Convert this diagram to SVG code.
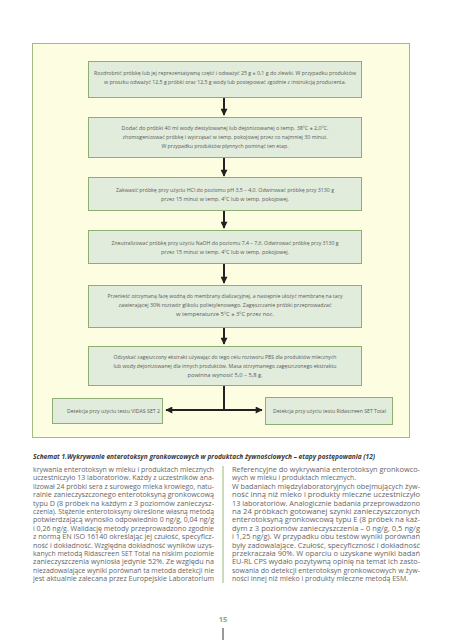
<svg xmlns="http://www.w3.org/2000/svg" width="453" height="640" viewBox="0 0 453 640">
<defs>
<marker id="ah" viewBox="0 0 10 10" refX="9" refY="5" markerWidth="4" markerHeight="3.5" orient="auto-start-reverse" markerUnits="strokeWidth">
<path d="M0,0 L10,5 L0,10 z" fill="#222"/>
</marker>
<style>
.outer{fill:#fdfde1;stroke:#a3bb80;stroke-width:1}
.box{fill:#e1ecdc;stroke:#8fae72;stroke-width:1}
.bt{font-family:"Open Sans","Liberation Sans",sans-serif;font-size:5.3px;fill:#5a5a5a;text-anchor:middle}
.lt{font-family:"Open Sans","Liberation Sans",sans-serif;font-size:5.3px;fill:#5a5a5a}
.con{stroke:#222;stroke-width:2;fill:none}
.cap{font-family:"Open Sans","Liberation Sans",sans-serif;font-size:7.4px;font-style:italic;font-weight:bold;fill:#3a3a3a}
.body{font-family:"Open Sans","Liberation Sans",sans-serif;font-size:6.6px;fill:#666}
</style>
</defs>
<rect width="453" height="640" fill="#fff"/>
<rect class="outer" x="32.5" y="43.5" width="377" height="394"/>

<g id="connectors">
<line class="con" x1="224" y1="98" x2="224" y2="115" marker-end="url(#ah)"/>
<line class="con" x1="224" y1="158" x2="224" y2="176" marker-end="url(#ah)"/>
<line class="con" x1="224" y1="210" x2="224" y2="228" marker-end="url(#ah)"/>
<line class="con" x1="224" y1="263" x2="224" y2="283" marker-end="url(#ah)"/>
<line class="con" x1="224" y1="327" x2="224" y2="344" marker-end="url(#ah)"/>
<line class="con" x1="224" y1="385" x2="224" y2="410"/>
<line class="con" x1="166" y1="410" x2="262" y2="410" marker-start="url(#ah)" marker-end="url(#ah)"/>
</g>

<g id="n1">
<rect class="box" x="88.5" y="61.5" width="273" height="36"/>
<text class="bt" x="225" y="75" textLength="262" lengthAdjust="spacingAndGlyphs">Rozdrobnić próbkę lub jej reprezentatywną część i odważyć 25 g ± 0,1 g do zlewki. W przypadku produktów</text>
<text class="bt" x="225" y="84" textLength="242" lengthAdjust="spacingAndGlyphs">w proszku odważyć 12,5 g próbki oraz 12,5 g wody lub postępować zgodnie z instrukcją producenta.</text>
</g>

<g id="n2">
<rect class="box" x="88.5" y="117.5" width="273" height="40"/>
<text class="bt" x="225" y="130" textLength="207" lengthAdjust="spacingAndGlyphs">Dodać do próbki 40 ml wody destylowanej lub dejonizowanej o temp. 38ºC ± 2,0ºC.</text>
<text class="bt" x="225" y="139" textLength="205" lengthAdjust="spacingAndGlyphs">zhomogenizować próbkę i wytrząsać w temp. pokojowej przez co najmniej 30 minut.</text>
<text class="bt" x="225" y="148" textLength="127" lengthAdjust="spacingAndGlyphs">W przypadku produktów płynnych pominąć ten etap.</text>
</g>

<g id="n3">
<rect class="box" x="88.5" y="177.5" width="273" height="33"/>
<text class="bt" x="225" y="192" textLength="218" lengthAdjust="spacingAndGlyphs">Zakwasić próbkę przy użyciu HCl do poziomu pH 3,5 – 4,0. Odwirować próbkę przy 3130 g</text>
<text class="bt" x="225" y="201" textLength="128" lengthAdjust="spacingAndGlyphs">przez 15 minut w temp. 4ºC lub w temp. pokojowej.</text>
</g>

<g id="n4">
<rect class="box" x="88.5" y="230.5" width="273" height="33"/>
<text class="bt" x="225" y="245" textLength="227" lengthAdjust="spacingAndGlyphs">Zneutralizować próbkę przy użyciu NaOH do poziomu 7,4 – 7,6. Odwirować próbkę przy 3130 g</text>
<text class="bt" x="225" y="254" textLength="128" lengthAdjust="spacingAndGlyphs">przez 15 minut w temp. 4ºC lub w temp. pokojowej.</text>
</g>

<g id="n5">
<rect class="box" x="88.5" y="285.5" width="273" height="42"/>
<text class="bt" x="225" y="298" textLength="235" lengthAdjust="spacingAndGlyphs">Przenieść otrzymaną fazę wodną do membrany dializacyjnej, a następnie ułożyć membranę na tacy</text>
<text class="bt" x="225" y="307" textLength="213" lengthAdjust="spacingAndGlyphs">zawierającej 30% roztwór glikolu polietylenowego. Zagęszczanie próbki przeprowadzać</text>
<text class="bt" x="225" y="316" textLength="98" lengthAdjust="spacingAndGlyphs">w temperaturze 5ºC ± 3ºC przez noc.</text>
</g>

<g id="n6">
<rect class="box" x="88.5" y="346.5" width="273" height="39"/>
<text class="bt" x="225" y="359" textLength="223" lengthAdjust="spacingAndGlyphs">Odzyskać zagęszczony ekstrakt używając do tego celu roztworu PBS dla produktów mlecznych</text>
<text class="bt" x="225" y="368" textLength="223" lengthAdjust="spacingAndGlyphs">lub wody dejonizowanej dla innych produktów. Masa otrzymanego zagęszczonego ekstraktu</text>
<text class="bt" x="225" y="377" textLength="75" lengthAdjust="spacingAndGlyphs">powinna wynosić 5,0 – 5,8 g.</text>
</g>

<g id="n7">
<rect class="box" x="52.5" y="398.5" width="110" height="25"/>
<text class="lt" x="67" y="413" textLength="93" lengthAdjust="spacingAndGlyphs">Detekcja przy użyciu testu VIDAS SET 2</text>
</g>

<g id="n8">
<rect class="box" x="265.5" y="397.5" width="127" height="27"/>
<text class="lt" x="273" y="413" textLength="113" lengthAdjust="spacingAndGlyphs">Detekcja przy użyciu testu Ridascreen SET Total</text>
</g>

<text class="cap" x="33" y="459" textLength="342" lengthAdjust="spacingAndGlyphs">Schemat 1.Wykrywanie enterotoksyn gronkowcowych w produktach żywnościowych – etapy postępowania (12)</text>

<g class="body">
<text x="33" y="472" textLength="181" lengthAdjust="spacingAndGlyphs">krywania enterotoksyn w mleku i produktach mlecznych</text>
<text x="33" y="480.4" textLength="181" lengthAdjust="spacingAndGlyphs">uczestniczyło 13 laboratoriów. Każdy z uczestników ana-</text>
<text x="33" y="488.8" textLength="181" lengthAdjust="spacingAndGlyphs">lizował 24 próbki sera z surowego mleka krowiego, natu-</text>
<text x="33" y="497.2" textLength="181" lengthAdjust="spacingAndGlyphs">ralnie zanieczyszczonego enterotoksyną gronkowcową</text>
<text x="33" y="505.6" textLength="181" lengthAdjust="spacingAndGlyphs">typu D (8 próbek na każdym z 3 poziomów zanieczysz-</text>
<text x="33" y="514" textLength="181" lengthAdjust="spacingAndGlyphs">czenia). Stężenie enterotoksyny określone własną metodą</text>
<text x="33" y="522.4" textLength="181" lengthAdjust="spacingAndGlyphs">potwierdzającą wynosiło odpowiednio 0 ng/g, 0,04 ng/g</text>
<text x="33" y="530.8" textLength="181" lengthAdjust="spacingAndGlyphs">i 0,26 ng/g. Walidację metody przeprowadzono zgodnie</text>
<text x="33" y="539.2" textLength="181" lengthAdjust="spacingAndGlyphs">z normą EN ISO 16140 określając jej czułość, specyficz-</text>
<text x="33" y="547.6" textLength="181" lengthAdjust="spacingAndGlyphs">ność i dokładność. Względna dokładność wyników uzys-</text>
<text x="33" y="556" textLength="181" lengthAdjust="spacingAndGlyphs">kanych metodą Ridascreen SET Total na niskim poziomie</text>
<text x="33" y="564.4" textLength="181" lengthAdjust="spacingAndGlyphs">zanieczyszczenia wyniosła jedynie 52%. Ze względu na</text>
<text x="33" y="572.8" textLength="181" lengthAdjust="spacingAndGlyphs">niezadowalające wyniki porównań ta metoda detekcji nie</text>
<text x="33" y="581.2" textLength="181" lengthAdjust="spacingAndGlyphs">jest aktualnie zalecana przez Europejskie Laboratorium</text>

<text x="232" y="472" textLength="188" lengthAdjust="spacingAndGlyphs">Referencyjne do wykrywania enterotoksyn gronkowco-</text>
<text x="232" y="480.4" textLength="124" lengthAdjust="spacingAndGlyphs">wych w mleku i produktach mlecznych.</text>
<text x="232" y="488.8" textLength="188" lengthAdjust="spacingAndGlyphs">W badaniach międzylaboratoryjnych obejmujących żyw-</text>
<text x="232" y="497.2" textLength="188" lengthAdjust="spacingAndGlyphs">ność inną niż mleko i produkty mleczne uczestniczyło</text>
<text x="232" y="505.6" textLength="188" lengthAdjust="spacingAndGlyphs">13 laboratoriów. Analogicznie badania przeprowadzono</text>
<text x="232" y="514" textLength="188" lengthAdjust="spacingAndGlyphs">na 24 próbkach gotowanej szynki zanieczyszczonych</text>
<text x="232" y="522.4" textLength="188" lengthAdjust="spacingAndGlyphs">enterotoksyną gronkowcową typu E (8 próbek na każ-</text>
<text x="232" y="530.8" textLength="188" lengthAdjust="spacingAndGlyphs">dym z 3 poziomów zanieczyszczenia – 0 ng/g, 0,5 ng/g</text>
<text x="232" y="539.2" textLength="188" lengthAdjust="spacingAndGlyphs">i 1,25 ng/g). W przypadku obu testów wyniki porównań</text>
<text x="232" y="547.6" textLength="188" lengthAdjust="spacingAndGlyphs">były zadowalające. Czułość, specyficzność i dokładność</text>
<text x="232" y="556" textLength="188" lengthAdjust="spacingAndGlyphs">przekraczała 90%. W oparciu o uzyskane wyniki badań</text>
<text x="232" y="564.4" textLength="188" lengthAdjust="spacingAndGlyphs">EU-RL CPS wydało pozytywną opinię na temat ich zasto-</text>
<text x="232" y="572.8" textLength="188" lengthAdjust="spacingAndGlyphs">sowania do detekcji enterotoksyn gronkowcowych w żyw-</text>
<text x="232" y="581.2" textLength="176" lengthAdjust="spacingAndGlyphs">ności innej niż mleko i produkty mleczne metodą ESM.</text>
</g>

<line x1="223" y1="466" x2="223" y2="583" stroke="#a9c38e" stroke-width="1.2"/>
<text x="223" y="622" font-family="'Open Sans','Liberation Sans',sans-serif" font-size="7.5" font-weight="bold" fill="#8ab35a" text-anchor="middle">15</text>
<line x1="223" y1="628" x2="223" y2="640" stroke="#777" stroke-width="1.5"/>
</svg>
